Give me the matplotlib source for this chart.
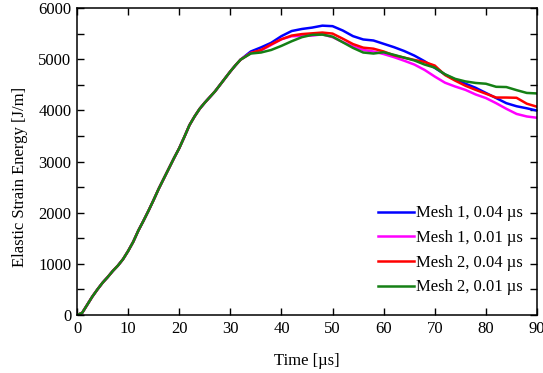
import matplotlib
matplotlib.use("Agg")
import matplotlib.pyplot as plt
from matplotlib.ticker import MultipleLocator

plt.rcParams['font.family'] = ['Liberation Serif', 'DejaVu Serif']

# shared early portion (all four curves coincide)
t_early = list(range(0, 33))
E_early = [0, 40, 200, 360, 500, 630, 740, 860, 965, 1090, 1250, 1430, 1650, 1840,
           2040, 2250, 2470, 2670, 2870, 3070, 3260, 3480, 3710, 3880, 4030, 4150,
           4260, 4370, 4500, 4630, 4760, 4880, 4990]

t_late = list(range(34, 91, 2))
mesh1_004 = [5150, 5230, 5320, 5450, 5550, 5590, 5617, 5655, 5645, 5560, 5450, 5385,
             5365, 5300, 5235, 5160, 5070, 4960, 4830, 4700, 4600, 4520, 4440, 4340,
             4240, 4140, 4080, 4040, 3995]
mesh1_001 = [5120, 5170, 5280, 5390, 5448, 5455, 5461, 5485, 5430, 5335, 5250, 5180,
             5150, 5100, 5040, 4970, 4895, 4790, 4660, 4540, 4465, 4400, 4310, 4240,
             4140, 4030, 3930, 3880, 3855]
mesh2_004 = [5120, 5180, 5290, 5390, 5461, 5490, 5505, 5520, 5500, 5400, 5295, 5225,
             5205, 5150, 5075, 5030, 4985, 4945, 4875, 4690, 4580, 4480, 4400, 4325,
             4250, 4250, 4245, 4130, 4070]
mesh2_001 = [5110, 5130, 5180, 5260, 5350, 5430, 5475, 5480, 5440, 5330, 5220, 5130,
             5110, 5135, 5085, 5030, 4975, 4895, 4835, 4705, 4615, 4565, 4535, 4520,
             4460, 4455, 4395, 4340, 4330]

labels = ["Mesh 1, 0.04 \u00b5s", "Mesh 1, 0.01 \u00b5s", "Mesh 2, 0.04 \u00b5s", "Mesh 2, 0.01 \u00b5s"]
colors = ["#0000ff", "#ff00ff", "#ff0000", "#158015"]
series = [mesh1_004, mesh1_001, mesh2_004, mesh2_001]

fig = plt.figure(figsize=(5.43, 3.73), dpi=100)
ax = fig.add_axes([77/543, 1 - 315/373, 460/543, 307/373])

t_all = t_early + t_late
for vals, lab, c in zip(series, labels, colors):
    ax.plot(t_all, E_early + vals, color=c, lw=1.8, label=lab)

ax.set_xlim(0, 90)
ax.set_ylim(0, 6000)
ax.xaxis.set_major_locator(MultipleLocator(10))
ax.yaxis.set_major_locator(MultipleLocator(1000))
ax.yaxis.set_minor_locator(MultipleLocator(500))
ax.tick_params(axis='both', which='both', direction='in', top=True, right=True,
               labelsize=12, width=1.0)
ax.tick_params(axis='both', which='major', length=5, pad=4)
ax.tick_params(axis='y', which='minor', length=5)
for s in ax.spines.values():
    s.set_linewidth(1.1)

ax.set_xlabel("Time [\u00b5s]", fontsize=12, labelpad=12)
ax.set_ylabel("Elastic Strain Energy [J/m]", fontsize=12)
ax.yaxis.set_label_coords(-0.106, 0.45)

ax.legend(loc='lower right', bbox_to_anchor=(0.970, 0.064), frameon=False, fontsize=12,
          handlelength=2.2, handletextpad=0.12, labelspacing=0.52, borderpad=0,
          borderaxespad=0)

fig.savefig("out.png", dpi=100)
